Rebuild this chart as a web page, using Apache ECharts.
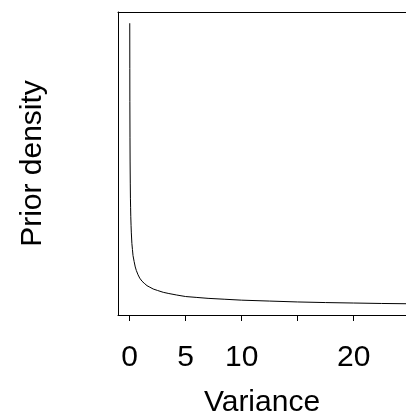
<!DOCTYPE html>
<html>
<head>
<meta charset="utf-8">
<script src="https://cdn.jsdelivr.net/npm/echarts@6/dist/echarts.min.js"></script>
<style>
  html, body { margin: 0; padding: 0; background: #fff; }
  #chart { width: 406px; height: 418px; }
</style>
</head>
<body>
<div id="chart"></div>
<script>
// values (density in arbitrary units, y axis has no labels)
const variance = [0.01, 0.015, 0.02, 0.03, 0.04, 0.055, 0.07, 0.085, 0.1, 0.125, 0.15, 0.2, 0.25, 0.3, 0.4, 0.5, 0.6, 0.75, 0.9, 1.1, 1.3, 1.55, 1.8, 2.1, 2.5, 3, 3.5, 4.2, 5, 6, 7, 8.5, 10, 12.5, 15, 17.5, 20, 22.5, 25]
const density = [9.5, 8.0, 6.9, 5.7, 4.9, 4.2, 3.7, 3.4, 3.1, 2.8, 2.55, 2.2, 2.0, 1.8, 1.6, 1.42, 1.3, 1.16, 1.05, 0.95, 0.88, 0.8, 0.75, 0.69, 0.64, 0.58, 0.54, 0.49, 0.44, 0.41, 0.38, 0.35, 0.32, 0.29, 0.26, 0.24, 0.225, 0.21, 0.2]
const tickValues = [0, 5, 10, 15, 20]
const labelValues = [0, 5, 10, 20]

const font = '"Liberation Sans", Arial, sans-serif'
const chart = echarts.init(document.getElementById('chart'), null, { renderer: 'canvas' })

const line = { color: '#000', width: 1 }

const option = {
  backgroundColor: '#fff',
  animation: false,
  grid: {
    left: 118,
    top: 12,
    right: 0,
    bottom: 103,
    outerBoundsMode: 'none'
  },
  xAxis: [
    {
      type: 'value',
      min: -1.04,
      max: 24.67,
      name: 'Variance',
      nameLocation: 'middle',
      nameGap: 73,
      nameTextStyle: { fontFamily: font, fontSize: 30, color: '#000' },
      axisLine: { show: true, onZero: false, lineStyle: line },
      axisTick: {
        show: true,
        length: 6,
        customValues: tickValues,
        lineStyle: line
      },
      axisLabel: {
        customValues: labelValues,
        margin: 28,
        fontFamily: font,
        fontSize: 30,
        color: '#000'
      },
      splitLine: { show: false }
    },
    {
      // top edge of the box
      type: 'value',
      position: 'top',
      min: -1.04,
      max: 24.67,
      axisLine: { show: true, onZero: false, lineStyle: line },
      axisTick: { show: false },
      axisLabel: { show: false },
      splitLine: { show: false }
    }
  ],
  yAxis: {
    type: 'value',
    min: -0.172,
    max: 9.872,
    name: 'Prior density',
    nameLocation: 'middle',
    nameGap: 70,
    nameTextStyle: { fontFamily: font, fontSize: 30, color: '#000' },
    axisLine: { show: true, onZero: false, lineStyle: line },
    axisTick: { show: false },
    axisLabel: { show: false },
    splitLine: { show: false }
  },
  series: [
    {
      type: 'line',
      data: variance.map((v, i) => [v, density[i]]),
      showSymbol: false,
      clip: true,
      lineStyle: { color: '#000', width: 1 }
    }
  ]
}
chart.setOption(option)
</script>
</body>
</html>
